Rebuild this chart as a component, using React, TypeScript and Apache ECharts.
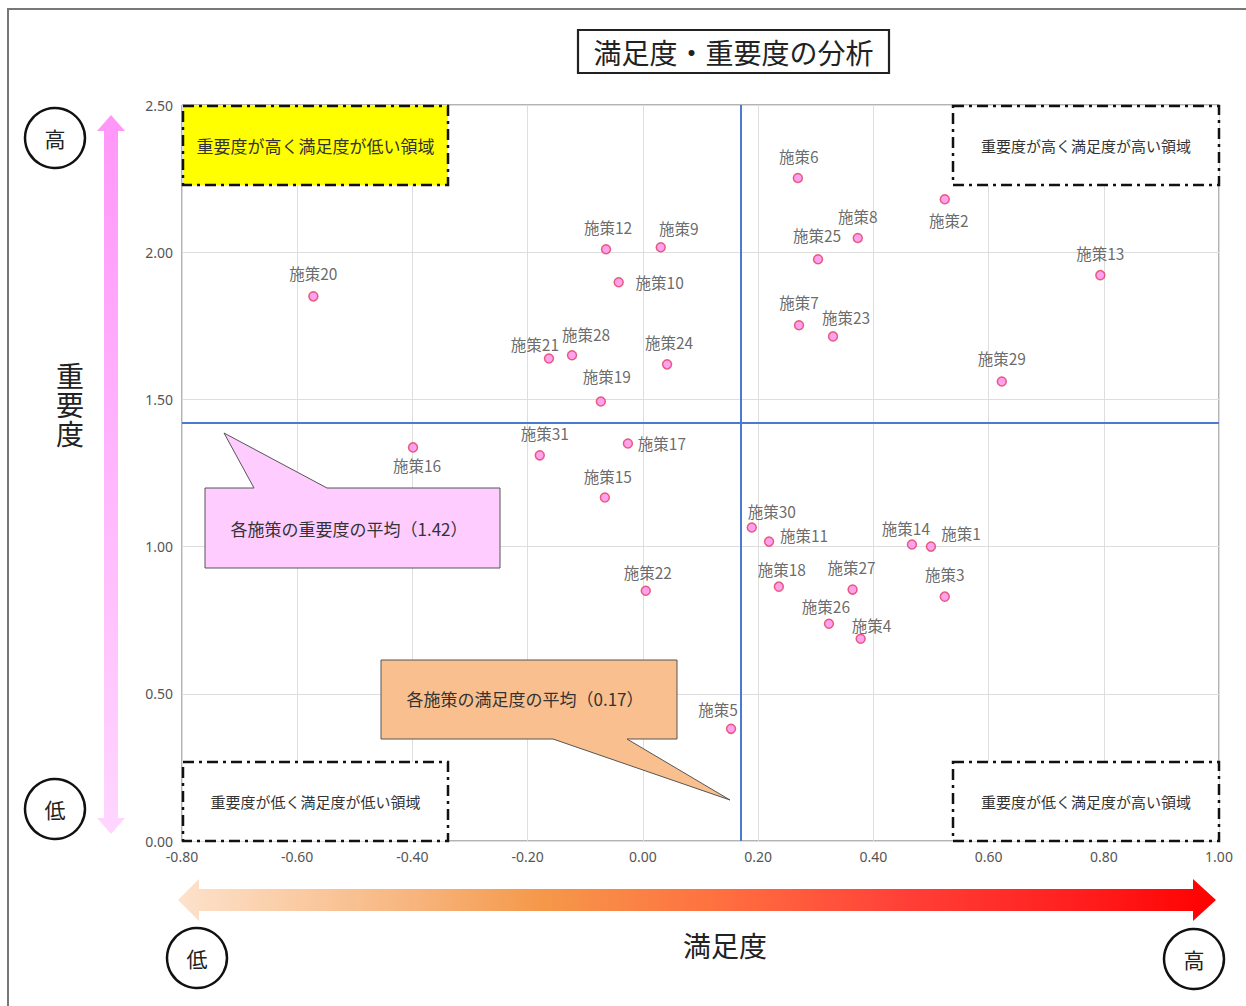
import React, { useEffect, useRef } from "react";
import * as echarts from "echarts";

const names = [
  "施策1", "施策2", "施策3", "施策4", "施策5", "施策6", "施策7", "施策8", "施策9", "施策10",
  "施策11", "施策12", "施策13", "施策14", "施策15", "施策16", "施策17", "施策18", "施策19", "施策20",
  "施策21", "施策22", "施策23", "施策24", "施策25", "施策26", "施策27", "施策28", "施策29", "施策30", "施策31",
];
// 満足度 (x)
const satisfaction = [
  0.5, 0.524, 0.524, 0.378, 0.153, 0.269, 0.271, 0.373, 0.031, -0.042,
  0.219, -0.064, 0.794, 0.467, -0.066, -0.399, -0.026, 0.236, -0.073, -0.572,
  -0.163, 0.005, 0.33, 0.042, 0.304, 0.323, 0.364, -0.123, 0.623, 0.189, -0.179,
];
// 重要度 (y)
const importance = [
  1.0, 2.18, 0.83, 0.687, 0.381, 2.252, 1.752, 2.048, 2.017, 1.898,
  1.017, 2.01, 1.922, 1.007, 1.167, 1.337, 1.35, 0.864, 1.493, 1.85,
  1.639, 0.85, 1.714, 1.619, 1.976, 0.738, 0.854, 1.65, 1.561, 1.065, 1.31,
];
// label offsets (style only)
const labelOffsets: [number, number][] = [
  [30, -14], [4, 21], [0, -23], [11, -14], [-13, -20], [1, -22], [0, -23], [0, -22], [18, -19], [41, 0],
  [35, -7], [2, -22], [0, -22], [-6, -17], [3, -21], [4, 18], [34, -1], [3, -18], [6, -25], [0, -23],
  [-14, -14], [2, -19], [13, -19], [2, -22], [-1, -24], [-3, -18], [-1, -23], [14, -21], [0, -23], [20, -16], [5, -22],
];

const meanSatisfaction = 0.17;
const meanImportance = 1.42;

const xMin = -0.8;
const xMax = 1.0;
const xInterval = 0.2;
const yMin = 0;
const yMax = 2.5;
const yInterval = 0.5;

const titleText = "満足度・重要度の分析";
const xName = "満足度";
const yName = "重要度";
const quadrantTexts = [
  "重要度が高く満足度が低い領域",
  "重要度が高く満足度が高い領域",
  "重要度が低く満足度が低い領域",
  "重要度が低く満足度が高い領域",
];

const JP = '"Noto Sans CJK JP", "Noto Sans", sans-serif';
const dashDot = [11, 5, 3, 5];

export default function App() {
  const ref = useRef<HTMLDivElement>(null);
  useEffect(() => {
    if (!ref.current) return;
    const chart = echarts.init(ref.current, null, { renderer: "svg" });

    const txt = (text: string, x: number, y: number, size: number, color = "#333", z = 10, lineHeight?: number) => ({
      type: "text",
      z,
      style: {
        text,
        x,
        y,
        fill: color,
        font: `${size}px ${JP}`,
        textAlign: "center",
        textVerticalAlign: "middle",
        ...(lineHeight ? { lineHeight } : {}),
      },
    });

    const qBox = (x: number, y: number, w: number, h: number, fill: string, text: string, size: number) => [
      {
        type: "rect",
        z: 5,
        shape: { x, y, width: w, height: h },
        style: { fill, stroke: "#111", lineWidth: 2.5, lineDash: dashDot },
      },
      txt(text, x + w / 2, y + h / 2, size, "#333", 6),
    ];

    const circ = (cx: number, cy: number, t: string) => [
      {
        type: "circle",
        z: 5,
        shape: { cx, cy, r: 30 },
        style: { fill: "#fff", stroke: "#111", lineWidth: 2.5 },
      },
      txt(t, cx, cy, 21, "#222", 6),
    ];

    const vArrowGrad = new echarts.graphic.LinearGradient(0, 0, 0, 1, [
      { offset: 0, color: "#ff96f8" },
      { offset: 0.5, color: "#ffb6fd" },
      { offset: 1, color: "#ffd6ff" },
    ]);
    const hArrowGrad = new echarts.graphic.LinearGradient(0, 0, 1, 0, [
      { offset: 0, color: "#fde2cb" },
      { offset: 0.23, color: "#f7b47c" },
      { offset: 0.35, color: "#f5984a" },
      { offset: 0.52, color: "#ff7040" },
      { offset: 0.7, color: "#ff4038" },
      { offset: 0.89, color: "#ff1a1a" },
      { offset: 1, color: "#ff0000" },
    ]);

    const graphic: any[] = [
      {
        type: "rect",
        z: 1,
        shape: { x: 8, y: 9, width: 1260, height: 1020 },
        style: { fill: "none", stroke: "#777", lineWidth: 2 },
      },
      // title box
      {
        type: "rect",
        z: 5,
        shape: { x: 578, y: 30, width: 311, height: 43 },
        style: { fill: "#fff", stroke: "#222", lineWidth: 2.2 },
      },
      txt(titleText, 733.5, 51.5, 28, "#222", 6),
      // quadrant boxes
      ...qBox(183, 106, 265, 79, "#ffff00", quadrantTexts[0], 17),
      ...qBox(953, 106, 266, 79, "#ffffff", quadrantTexts[1], 15),
      ...qBox(183, 762, 265, 79, "#ffffff", quadrantTexts[2], 15),
      ...qBox(953, 762, 266, 79, "#ffffff", quadrantTexts[3], 15),
      // callouts
      {
        type: "polygon",
        z: 5,
        shape: {
          points: [[205, 488], [254, 488], [224, 433], [327, 488], [500, 488], [500, 568], [205, 568]],
        },
        style: { fill: "#ffccff", stroke: "#555", lineWidth: 1 },
      },
      txt(`各施策の重要度の平均（${meanImportance.toFixed(2)}）`, 349, 528, 17, "#333", 6),
      {
        type: "polygon",
        z: 5,
        shape: {
          points: [[381, 660], [677, 660], [677, 739], [627, 739], [730, 800], [553, 739], [381, 739]],
        },
        style: { fill: "#f9bf8e", stroke: "#555", lineWidth: 1 },
      },
      txt(`各施策の満足度の平均（${meanSatisfaction.toFixed(2)}）`, 525, 698, 17, "#333", 6),
      // arrows
      {
        type: "polygon",
        z: 3,
        shape: {
          points: [
            [111, 115], [125, 131], [118, 131], [118, 818], [125, 818], [111, 834],
            [97, 818], [104, 818], [104, 131], [97, 131],
          ],
        },
        style: { fill: vArrowGrad },
      },
      {
        type: "polygon",
        z: 3,
        shape: {
          points: [
            [178, 900], [199, 879], [199, 889], [1193, 889], [1193, 879], [1216, 900],
            [1193, 921], [1193, 911], [199, 911], [199, 921],
          ],
        },
        style: { fill: hArrowGrad },
      },
      // circles
      ...circ(55, 138, "高"),
      ...circ(55, 809, "低"),
      ...circ(197, 958, "低"),
      ...circ(1194, 959, "高"),
      // axis names
      txt(xName, 725, 945, 28, "#222"),
      txt(yName.split("").join("\n"), 70, 404, 28, "#222", 10, 29),
    ];

    const data = names.map((n, i) => ({
      name: n,
      value: [satisfaction[i], importance[i]],
      label: { offset: labelOffsets[i] },
    }));

    chart.setOption({
      animation: false,
      backgroundColor: "#fff",
      grid: {
        left: 182,
        right: 27,
        top: 105,
        bottom: 165,
        show: true,
        borderColor: "#666",
        borderWidth: 1,
      },
      xAxis: {
        type: "value",
        min: xMin,
        max: xMax,
        interval: xInterval,
        axisLine: { show: false },
        axisTick: { show: false },
        splitLine: { show: true, lineStyle: { color: "#dedede", width: 1 } },
        axisLabel: {
          color: "#555",
          fontSize: 14,
          fontFamily: '"Noto Sans", sans-serif',
          margin: 8,
          formatter: (v: number) => v.toFixed(2),
        },
      },
      yAxis: {
        type: "value",
        min: yMin,
        max: yMax,
        interval: yInterval,
        axisLine: { show: false },
        axisTick: { show: false },
        splitLine: { show: true, lineStyle: { color: "#dedede", width: 1 } },
        axisLabel: {
          color: "#555",
          fontSize: 14,
          fontFamily: '"Noto Sans", sans-serif',
          margin: 9,
          formatter: (v: number) => v.toFixed(2),
        },
      },
      graphic,
      series: [
        {
          type: "scatter",
          symbol: "circle",
          symbolSize: 9,
          z: 8,
          itemStyle: { color: "#ff88ec", borderColor: "#e0405c", borderWidth: 1.5 },
          label: {
            show: true,
            position: "inside",
            formatter: "{b}",
            color: "#444",
            fontSize: 15.5,
            fontFamily: JP,
          },
          data,
          markLine: {
            silent: true,
            symbol: ["none", "none"],
            label: { show: false },
            lineStyle: { color: "#4a7bd0", width: 2, type: "solid" },
            data: [{ xAxis: meanSatisfaction }, { yAxis: meanImportance }],
          },
        },
      ],
    });
    return () => chart.dispose();
  }, []);

  return (
    <div
      ref={ref}
      style={{ position: "absolute", left: 0, top: 0, width: 1246, height: 1006, background: "#fff" }}
    />
  );
}
